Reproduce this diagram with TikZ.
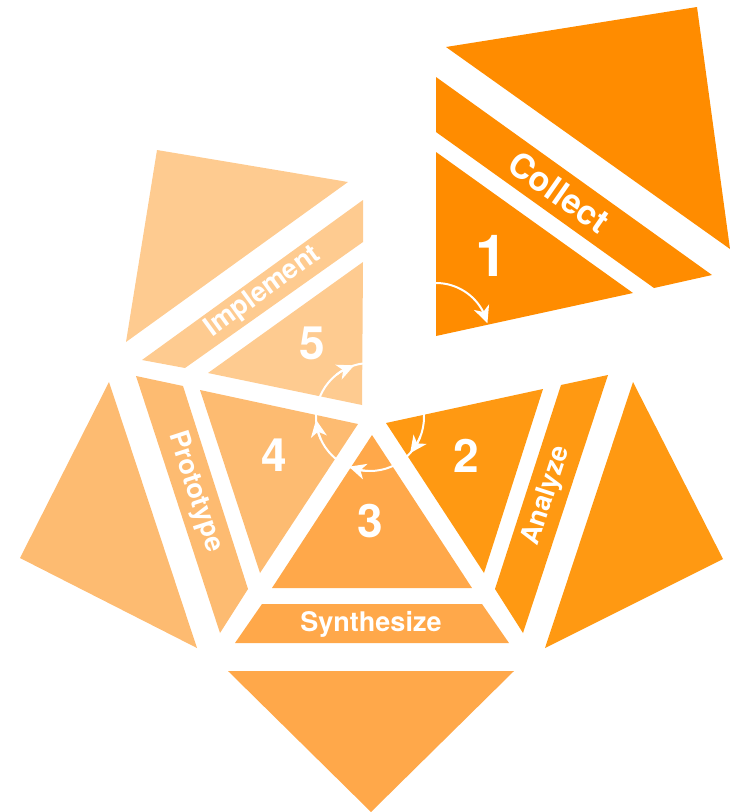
\documentclass[tikz,border=0pt]{standalone}
\usepackage{fontspec}
\setmainfont{TeX Gyre Heros}
\usetikzlibrary{arrows.meta,bending}
\definecolor{cA}{HTML}{FF8C00}
\definecolor{cB}{HTML}{FF9912}
\definecolor{cC}{HTML}{FFA84A}
\definecolor{cD}{HTML}{FDBB71}
\definecolor{cE}{HTML}{FECB90}
\begin{document}
\begin{tikzpicture}[x=1pt,y=-1pt,
  lbl/.style={text=white, font=\bfseries\fontsize{27}{27}\selectfont, inner sep=0pt},
  bignum/.style={text=white, font=\bfseries\fontsize{46}{46}\selectfont, inner sep=0pt},
  cyc/.style={draw=white, line width=2pt},
  tipA/.style={-{Stealth[length=17pt,width=16pt,inset=5pt]}}]
\useasboundingbox (0,0) rectangle (729,812);
% Collect (1)
\fill[cA] (446,47) -- (697,7) -- (730,249) -- cycle;
\fill[cA] (436,77) -- (712,275) -- (654,288) -- (436,132) -- cycle;
\fill[cA] (436,152) -- (633,293) -- (436,336) -- cycle;
% Analyze (2)
\fill[cB] (386,423) -- (543,389) -- (484,573) -- cycle;
\fill[cB] (561,385) -- (608,375) -- (523,633) -- (495,589) -- cycle;
\fill[cB] (633,382) -- (723,559) -- (545,648) -- cycle;
% Synthesize (3)
\fill[cC] (372,435) -- (472,588) -- (272,588) -- cycle;
\fill[cC] (262,604) -- (482,604) -- (509,643) -- (235,643) -- cycle;
\fill[cC] (228,671) -- (514,671) -- (371,812) -- cycle;
% Prototype (4)
\fill[cD] (200,390) -- (358,424) -- (260,573) -- cycle;
\fill[cD] (136,376) -- (183,386) -- (248,589) -- (220,633) -- cycle;
\fill[cD] (109,382) -- (197,648) -- (20,558) -- cycle;
% Implement (5)
\fill[cE] (157,150) -- (348,182) -- (126,342) -- cycle;
\fill[cE] (363,200) -- (363,242) -- (185,368) -- (142,360) -- cycle;
\fill[cE] (363,262) -- (362,405) -- (208,373) -- cycle;
% cycle arrows
\coordinate (cc) at (370,417);
\coordinate (c1) at (436,336);
\draw[cyc] (cc) circle[radius=54];
\draw[cyc,tipA] (cc) ++(232:54) arc[start angle=232,end angle=253,radius=54];
\draw[cyc,tipA] (cc) ++(156:54) arc[start angle=156,end angle=177,radius=54];
\draw[cyc,tipA] (cc) ++(92:54) arc[start angle=92,end angle=113,radius=54];
\draw[cyc,tipA] (cc) ++(21:54) arc[start angle=21,end angle=42,radius=54];
\draw[cyc,tipA] (c1) ++(270:53) arc[start angle=270,end angle=346,radius=53];
% labels
\node[lbl, font=\bfseries\fontsize{34}{34}\selectfont, rotate=-35] (tcollect) at (559,192) {Collect};
\node[bignum, font=\bfseries\fontsize{58}{58}\selectfont] (n1) at (492,256) {1};
\node[lbl, rotate=72] (tanalyze) at (547,496) {Analyze};
\node[bignum] (n2) at (466,456) {2};
\node[lbl] (tsynth) at (371,624) {Synthesize};
\node[bignum] (n3) at (370,521) {3};
\node[lbl, rotate=-72] (tproto) at (195,492) {Prototype};
\node[bignum] (n4) at (274,455) {4};
\node[lbl, rotate=36] (timpl) at (263,292) {Implement};
\node[bignum] (n5) at (312,343) {5};
\end{tikzpicture}
\end{document}
